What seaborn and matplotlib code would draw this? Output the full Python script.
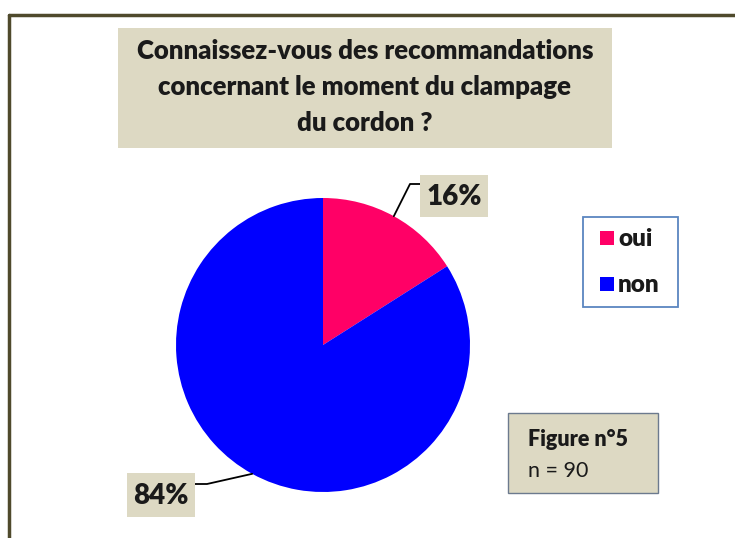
import numpy as np
import matplotlib
matplotlib.use('Agg')
import matplotlib.pyplot as plt
import seaborn as sns
from matplotlib.patches import Rectangle

categories = ['oui', 'non']
values = [16, 84]
labels = ['16%', '84%']
colors = ['#ff0066', '#0000ff']
title_lines = ['Connaissez-vous des recommandations',
               'concernant le moment du clampage',
               'du cordon ?']
fig_label = 'Figure n°5'
n_label = 'n = 90'

sns.set_style('white')
plt.rcParams['font.family'] = ['Lato', 'DejaVu Sans']

W, H = 735, 538
fig = plt.figure(figsize=(W / 100, H / 100), dpi=100)


def fx(x):
  return x / W


def fy(y):
  return 1 - y / H


def box(x0, y0, x1, y1, fc, ec, lw=1.0):
  r = Rectangle((fx(x0), fy(y1)), fx(x1) - fx(x0), fy(y0) - fy(y1),
                transform=fig.transFigure, facecolor=fc, edgecolor=ec,
                linewidth=lw, zorder=1)
  fig.add_artist(r)


# outer frame
fig.add_artist(plt.Line2D([fx(9), fx(9)], [fy(15), fy(545)], transform=fig.transFigure,
                          color='#4f4a2c', lw=2.5))
fig.add_artist(plt.Line2D([fx(9), fx(740)], [fy(15), fy(15)], transform=fig.transFigure,
                          color='#4f4a2c', lw=2.5))

# title
box(118, 28, 612, 148, '#ddd9c3', 'none')
for i, line in enumerate(title_lines):
  fig.text(fx(365), fy(51 + 36 * i), line, ha='center', va='center',
           fontsize=18.5, fontweight='heavy', color='#1a1a1a')

# pie
ax = fig.add_axes([fx(176), fy(492), fx(470) - fx(176), fy(198) - fy(492)])
wedges, _ = ax.pie(values, colors=colors, startangle=90, counterclock=False,
                   radius=1.0, wedgeprops={'linewidth': 0})
ax.set_xlim(-1, 1)
ax.set_ylim(-1, 1)
ax.set_aspect('equal')
ax.axis('off')

# leader lines + labels
r_px = 147.0
cx, cy = 323, 345
mids = []
start = 90.0
for v in values:
  ang = start - 360 * v / sum(values) / 2
  mids.append(np.deg2rad(ang))
  start -= 360 * v / sum(values)

pts = [[(410, 184), (420, 184)], [(207, 484), (195, 484)]]
for m, p in zip(mids, pts):
  ex, ey = np.cos(m), np.sin(m)
  xs = [ex] + [(q[0] - cx) / r_px for q in p]
  ys = [ey] + [(cy - q[1]) / r_px for q in p]
  ax.plot(xs, ys, color='black', lw=1.3, clip_on=False)

label_boxes = [(420, 175, 488, 217), (127, 473, 195, 517)]
for lab, (x0, y0, x1, y1) in zip(labels, label_boxes):
  box(x0, y0, x1, y1, '#ddd9c3', 'none')
  fig.text(fx((x0 + x1) / 2), fy((y0 + y1) / 2 + 1), lab, ha='center', va='center',
           fontsize=20, fontweight='heavy', color='#1a1a1a')

# legend
box(583, 217, 678, 307, 'white', '#5b86c0', 1.3)
for i, (cat, col) in enumerate(zip(categories, colors)):
  y = 238 + 46 * i
  box(600, y - 7, 614, y + 7, col, 'none')
  fig.text(fx(618), fy(y + 1), cat, ha='left', va='center', fontsize=17.5,
           fontweight='heavy', color='#1a1a1a')

# figure box
box(508, 413, 658, 493, '#ddd9c3', '#6c7a8e', 1.0)
fig.text(fx(528), fy(440), fig_label, ha='left', va='center', fontsize=15.5,
         fontweight='heavy', color='#1a1a1a')
fig.text(fx(528), fy(471), n_label, ha='left', va='center', fontsize=15.5,
         color='#1a1a1a')

fig.savefig('out.png', dpi=100)
